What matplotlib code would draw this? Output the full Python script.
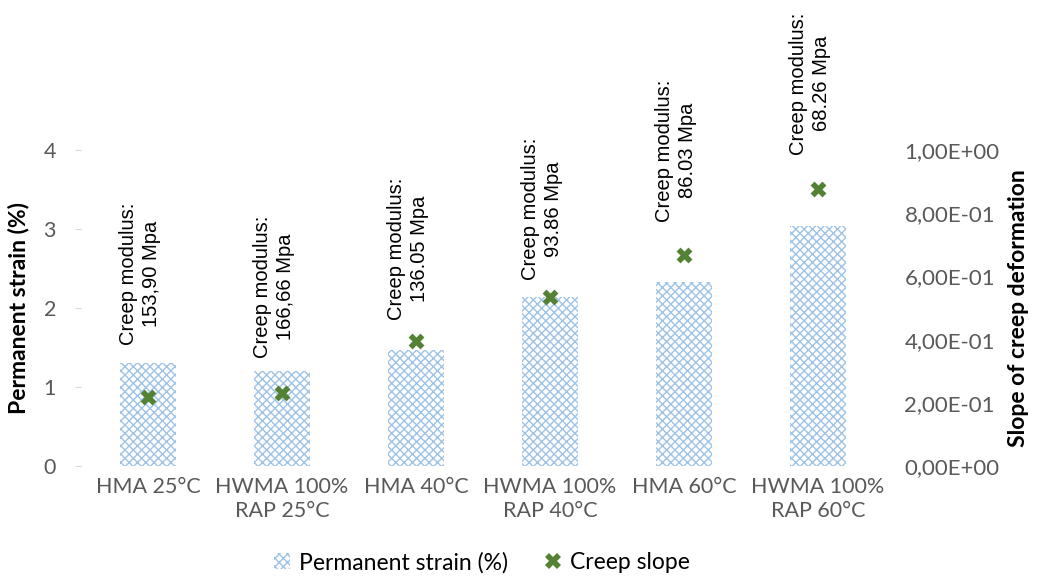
import matplotlib
matplotlib.use("Agg")
import matplotlib.pyplot as plt
from matplotlib.ticker import FuncFormatter
from matplotlib.lines import Line2D
from matplotlib.patches import Patch
import numpy as np

categories = ["HMA 25°C", "HWMA 100%\nRAP 25°C", "HMA 40°C",
              "HWMA 100%\nRAP 40°C", "HMA 60°C", "HWMA 100%\nRAP 60°C"]
permanent_strain = [1.30, 1.20, 1.47, 2.14, 2.33, 3.04]
creep_slope = [0.218, 0.231, 0.396, 0.535, 0.668, 0.877]
creep_modulus = ["153,90 Mpa", "166,66 Mpa", "136.05 Mpa",
                 "93.86 Mpa", "86.03 Mpa", "68.26 Mpa"]

# where each rotated annotation starts (strain units)
label_base = [1.53, 1.37, 1.85, 2.35, 3.09, 3.94]

TICK = "#595959"
BAR_EC = "#9DC3E6"
GREEN = "#548235"
plt.rcParams["hatch.linewidth"] = 1.0
plt.rcParams["font.family"] = ["Lato", "DejaVu Sans"]

fig = plt.figure(figsize=(10.37, 5.85), dpi=100)
ax = fig.add_axes([0.0781, 0.2034, 0.7753, 0.5402])
ax2 = ax.twinx()

x = np.arange(len(categories))
ax.bar(x, permanent_strain, width=0.42, facecolor="white", edgecolor=BAR_EC,
       hatch="xxxx", linewidth=0, zorder=2)
ax2.scatter(x, creep_slope, marker="X", s=130, color=GREEN, zorder=5,
            linewidths=0)

ax.set_xlim(-0.5, len(categories) - 0.5)
ax.set_ylim(0, 4)
ax2.set_ylim(0, 1.0)
ax.set_yticks([0, 1, 2, 3, 4])
ax2.set_yticks([0, 0.2, 0.4, 0.6, 0.8, 1.0])
ax2.yaxis.set_major_formatter(
    FuncFormatter(lambda v, p: ("%.2E" % v).replace(".", ",")))

for a in (ax, ax2):
    for sp in a.spines.values():
        sp.set_visible(False)
ax.tick_params(axis="y", colors=TICK, labelsize=15.5, length=4, pad=14,
               color="#D9D9D9")
ax2.tick_params(axis="y", colors=TICK, labelsize=16, length=0, pad=14)
ax.set_xticks(x)
ax.set_xticklabels(categories, fontsize=15.5, color=TICK, linespacing=1.25)
ax.tick_params(axis="x", length=0, pad=8)

ax.set_ylabel("Permanent strain (%)", fontsize=16.5, fontweight="bold",
              labelpad=10)
ax2.set_ylabel("Slope of creep deformation", fontsize=16.5, fontweight="bold",
               labelpad=6)

for i, (mod, yb) in enumerate(zip(creep_modulus, label_base)):
    ax.text(i - 0.06, yb, "Creep modulus:\n" + mod, rotation=90, ha="center",
            va="bottom", fontsize=14.5, family="Liberation Sans",
            multialignment="center", linespacing=1.3, zorder=6)

handles = [Patch(facecolor="white", edgecolor=BAR_EC, hatch="xxxx", linewidth=0),
           Line2D([], [], marker="X", linestyle="none", color=GREEN,
                  markersize=11, markeredgewidth=0)]
fig.legend(handles, ["Permanent strain (%)", "Creep slope"], loc="lower center",
           bbox_to_anchor=(0.465, -0.015), ncol=2, frameon=False, fontsize=16.5,
           handlelength=0.7, handletextpad=0.4, columnspacing=1.6)

fig.savefig("out.png", facecolor="white")
